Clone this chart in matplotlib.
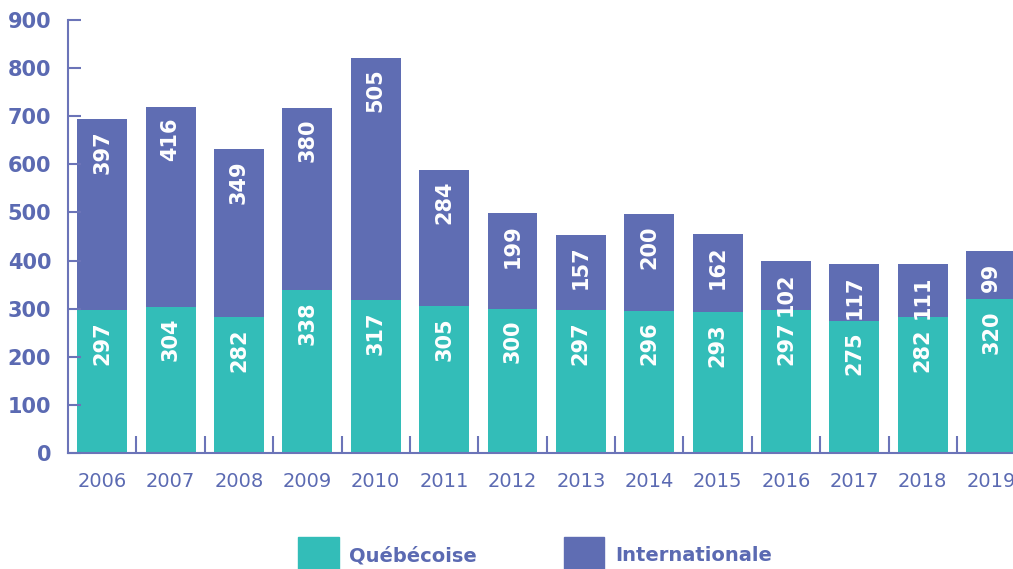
import matplotlib.pyplot as plt
from matplotlib.patches import Patch
import numpy as np

years = ['2006', '2007', '2008', '2009', '2010', '2011', '2012',
         '2013', '2014', '2015', '2016', '2017', '2018', '2019']
quebecoise = [297, 304, 282, 338, 317, 305, 300, 297, 296, 293, 297, 275, 282, 320]
internationale = [397, 416, 349, 380, 505, 284, 199, 157, 200, 162, 102, 117, 111, 99]

teal = '#33bdb8'
purple = '#5f6db3'
txt = '#5b6ab2'
axc = '#6b74b8'

plt.rcParams['font.family'] = 'DejaVu Sans'

fig = plt.figure(figsize=(10.13, 5.69), dpi=100)
ax = fig.add_axes([68 / 1013, 116 / 569, 945 / 1013, 433 / 569])

x = np.arange(len(years))
ax.bar(x, quebecoise, width=0.73, color=teal)
ax.bar(x, internationale, width=0.73, bottom=quebecoise, color=purple)

# value labels, rotated, near the top of each segment
for i in range(len(years)):
    q = quebecoise[i]
    t = q + internationale[i]
    ax.annotate(str(q), (x[i], q), xytext=(0, -8), textcoords='offset points',
                rotation=90, ha='center', va='top', color='white',
                fontsize=15, fontweight='bold')
    ax.annotate(str(internationale[i]), (x[i], t), xytext=(0, -8),
                textcoords='offset points', rotation=90, ha='center', va='top',
                color='white', fontsize=15, fontweight='bold')

ax.set_xlim(-0.5, 13.32)
ax.set_ylim(0, 900)
ax.set_yticks(range(0, 901, 100))
ax.set_xticks(x)
ax.set_xticklabels(years)
ax.set_xticks(x[:-1] + 0.5, minor=True)

for s in ['top', 'right']:
    ax.spines[s].set_visible(False)
for s in ['left', 'bottom']:
    ax.spines[s].set_color(axc)
    ax.spines[s].set_linewidth(1.5)

ax.tick_params(axis='y', direction='in', length=9, width=1.5, color=axc,
               labelcolor=txt, labelsize=15, pad=12)
for lab in ax.get_yticklabels():
    lab.set_fontweight('bold')
ax.tick_params(axis='x', which='major', length=0, labelcolor=txt,
               labelsize=14, pad=14)
ax.tick_params(axis='x', which='minor', direction='in', length=12, width=1.5,
               color=axc)

handles = [Patch(color=teal), Patch(color=purple)]
leg = fig.legend(handles, ['Québécoise', 'Internationale'], loc='lower center',
                 bbox_to_anchor=(0.528, -0.04), ncol=2, frameon=False,
                 handlelength=2.1, handleheight=2.6, handletextpad=0.55,
                 columnspacing=4.45, prop={'size': 14, 'weight': 'bold'})
for t in leg.get_texts():
    t.set_color(txt)

fig.savefig('out.png', dpi=100)
